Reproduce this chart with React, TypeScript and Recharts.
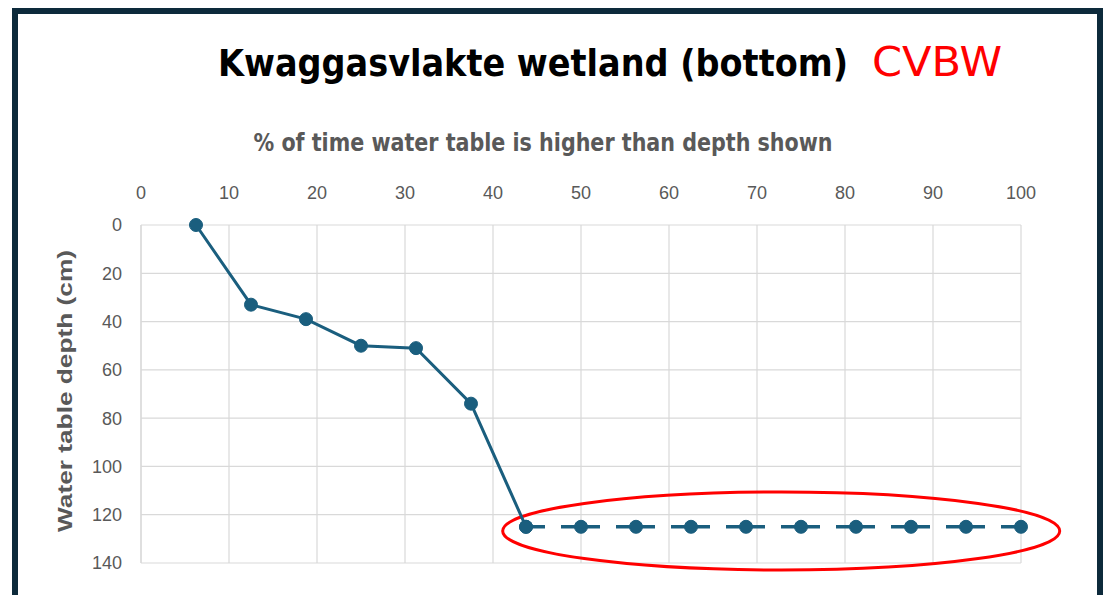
import {
  LineChart,
  Line,
  XAxis,
  YAxis,
  CartesianGrid,
  ReferenceArea,
} from "recharts";

const pctOfTime = [6.25, 12.5, 18.75, 25, 31.25, 37.5, 43.75, 50, 56.25, 62.5, 68.75, 75, 81.25, 87.5, 93.75, 100];
const depthCm = [0, 33, 39, 50, 51, 74, 125, 125, 125, 125, 125, 125, 125, 125, 125, 125];
// measured part drawn solid, the rest dashed (starts at 43.75%)
const splitIndex = 6;

const xTicks = [0, 10, 20, 30, 40, 50, 60, 70, 80, 90, 100];
const yTicks = [0, 20, 40, 60, 80, 100, 120, 140];

const rows = pctOfTime.map((x, i) => ({
  x,
  solid: i <= splitIndex ? depthCm[i] : null,
  dashed: i >= splitIndex ? depthCm[i] : null,
}));

const LINE = "#1a5e7e";
const GRAY = "#595959";
const NARROW = "'Liberation Sans Narrow', 'DejaVu Sans Condensed', Arial, sans-serif";

const Ellipse = (props: any) => {
  const { x, y, width, height } = props;
  return (
    <ellipse
      cx={x + width / 2}
      cy={y + height / 2}
      rx={width / 2}
      ry={height / 2}
      fill="none"
      stroke="#ff0000"
      strokeWidth={3}
    />
  );
};

export default function App() {
  return (
    <div style={{ position: "absolute", left: 0, top: 0, width: 1110, height: 595, background: "#fff", overflow: "hidden" }}>
      <div
        style={{
          position: "absolute",
          left: 12,
          top: 8,
          width: 1079,
          height: 620,
          border: "6px solid #0d2a3b",
          borderBottom: "none",
        }}
      />
      <svg width={1110} height={110} style={{ position: "absolute", left: 0, top: 0 }}>
        <text
          x={218}
          y={76}
          fontFamily={NARROW}
          fontWeight="bold"
          fontSize={38}
          fill="#000"
          textLength={630}
          lengthAdjust="spacingAndGlyphs"
        >
          Kwaggasvlakte wetland (bottom)
        </text>
        <text
          x={872}
          y={76}
          fontFamily={NARROW}
          fontSize={40}
          fill="#ff0000"
          textLength={130}
          lengthAdjust="spacingAndGlyphs"
        >
          CVBW
        </text>
      </svg>
      <div style={{ position: "absolute", left: 0, top: 0 }}>
        <LineChart
          width={1110}
          height={595}
          data={rows}
          margin={{ top: 165, right: 89, bottom: 32, left: 81 }}
        >
          <CartesianGrid stroke="#d9d9d9" strokeWidth={1.2} />
          <XAxis
            xAxisId={0}
            dataKey="x"
            type="number"
            orientation="top"
            domain={[0, 100]}
            ticks={xTicks}
            height={60}
            tickLine={false}
            axisLine={false}
            tickMargin={20}
            tick={{ fill: GRAY, fontSize: 18, fontFamily: "Arial, 'Liberation Sans', sans-serif" }}
            label={{
              content: (p: any) => {
                const vb = p.viewBox;
                return (
                  <text
                    x={vb.x + vb.width / 2 - 38}
                    y={vb.y - 14}
                    textAnchor="middle"
                    fontFamily={NARROW}
                    fontWeight="bold"
                    fontSize={24}
                    fill={GRAY}
                    textLength={579}
                    lengthAdjust="spacingAndGlyphs"
                  >
                    % of time water table is higher than depth shown
                  </text>
                );
              },
            }}
          />
          <YAxis
            yAxisId={0}
            type="number"
            reversed
            domain={[0, 140]}
            ticks={yTicks}
            width={60}
            tickLine={false}
            axisLine={{ stroke: "#d9d9d9", strokeWidth: 1.2 }}
            tickMargin={13}
            tick={{ fill: GRAY, fontSize: 18, fontFamily: "Arial, 'Liberation Sans', sans-serif" }}
            label={{
              content: (p: any) => {
                const vb = p.viewBox;
                const cx = vb.x - 16;
                const cy = vb.y + vb.height / 2 - 3;
                return (
                  <text
                    x={cx}
                    y={cy}
                    transform={`rotate(-90 ${cx} ${cy})`}
                    textAnchor="middle"
                    dominantBaseline="central"
                    fontFamily="Arial, 'Liberation Sans', sans-serif"
                    fontWeight="bold"
                    fontSize={20}
                    fill={GRAY}
                    textLength={282}
                    lengthAdjust="spacingAndGlyphs"
                  >
                    Water table depth (cm)
                  </text>
                );
              },
            }}
          />
          <Line
            dataKey="solid"
            stroke={LINE}
            strokeWidth={3}
            dot={{ r: 6.5, fill: LINE, stroke: LINE, strokeWidth: 1 }}
            connectNulls={false}
            isAnimationActive={false}
          />
          <Line
            dataKey="dashed"
            stroke={LINE}
            strokeWidth={3.5}
            strokeDasharray="39 16"
            strokeDashoffset={20}
            dot={{ r: 6.5, fill: LINE, stroke: LINE, strokeWidth: 1, strokeDasharray: "0" }}
            connectNulls={false}
            isAnimationActive={false}
          />
          <ReferenceArea
            x1={41.1}
            x2={104.4}
            y1={110.6}
            y2={142.9}
            ifOverflow="visible"
            shape={Ellipse}
          />
        </LineChart>
      </div>
    </div>
  );
}
